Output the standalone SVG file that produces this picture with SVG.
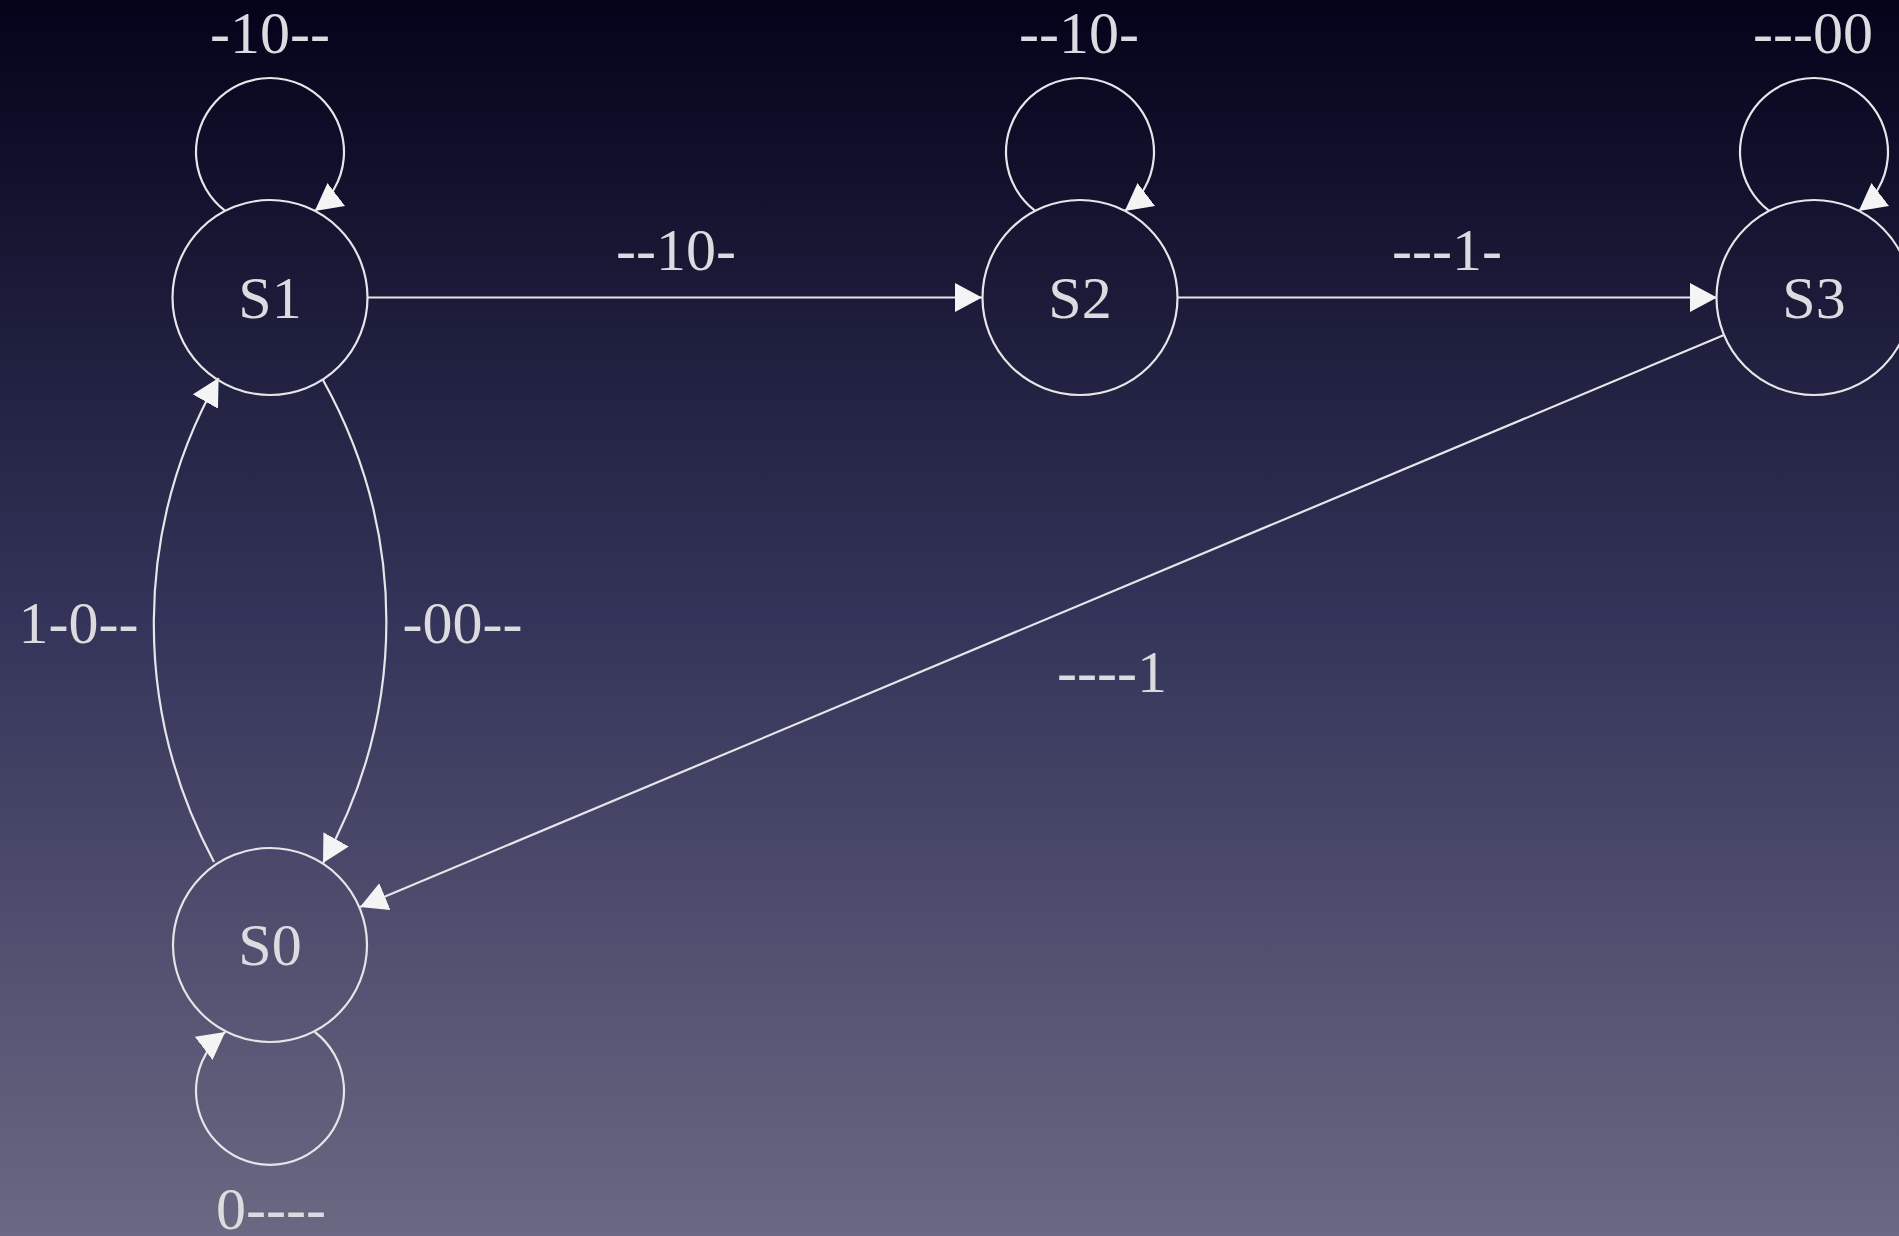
<svg xmlns="http://www.w3.org/2000/svg" width="1899" height="1236" viewBox="0 0 1899 1236">
<defs>
<linearGradient id="bg" x1="0" y1="0" x2="0" y2="1">
<stop offset="0" stop-color="#04031a"/>
<stop offset="0.5" stop-color="#34345a"/>
<stop offset="1" stop-color="#6a6882"/>
</linearGradient>
<marker id="arr" viewBox="0 0 10 10" refX="10" refY="5" markerWidth="27" markerHeight="29" markerUnits="userSpaceOnUse" orient="auto" preserveAspectRatio="none">
<path d="M0,0 L10,5 L0,10 z" fill="#f4f4f4"/>
</marker>
</defs>
<style>
.node{fill:none;stroke:#e6e6ea;stroke-width:2.2}
.edge{fill:none;stroke:#e6e6ea;stroke-width:2.2;marker-end:url(#arr)}
text{font-family:"Liberation Serif","Times New Roman",serif;font-size:60px;fill:#dcdce0;text-anchor:middle}
</style>
<rect x="0" y="0" width="1899" height="1236" fill="url(#bg)"/>
<g id="connectors">
<path class="edge" d="M225.2,210.9 A74,74 0 1 1 314.8,210.9"/>
<path class="edge" d="M1035.2,210.9 A74,74 0 1 1 1124.8,210.9"/>
<path class="edge" d="M1769.2,210.9 A74,74 0 1 1 1858.8,210.9"/>
<path class="edge" d="M314.8,1032 A74,74 0 1 1 225.2,1032"/>
<path class="edge" d="M367.5,297.5 L982,297.5"/>
<path class="edge" d="M1177.5,297.5 L1717,297.5"/>
<path class="edge" d="M1724,335 L360,907"/>
<path class="edge" d="M214,862 C133,710 133,530 218.6,378"/>
<path class="edge" d="M323,380 C407.5,532 407.5,711 323,863"/>
<text x="270" y="53">-10--</text>
<text x="1079" y="53">--10-</text>
<text x="1813" y="53">---00</text>
<text x="676" y="270">--10-</text>
<text x="1447" y="270">---1-</text>
<text x="78.5" y="643">1-0--</text>
<text x="462.5" y="643">-00--</text>
<text x="1112" y="692">----1</text>
<text x="271" y="1229">0----</text>
</g>
<g id="S1">
<circle class="node" cx="270" cy="297.5" r="97.5"/>
<text x="270" y="317.5">S1</text>
</g>
<g id="S2">
<circle class="node" cx="1080" cy="297.5" r="97.5"/>
<text x="1080" y="317.5">S2</text>
</g>
<g id="S3">
<circle class="node" cx="1814" cy="297.5" r="97.5"/>
<text x="1814" y="317.5">S3</text>
</g>
<g id="S0">
<circle class="node" cx="270" cy="945" r="97"/>
<text x="270" y="965">S0</text>
</g>
</svg>
